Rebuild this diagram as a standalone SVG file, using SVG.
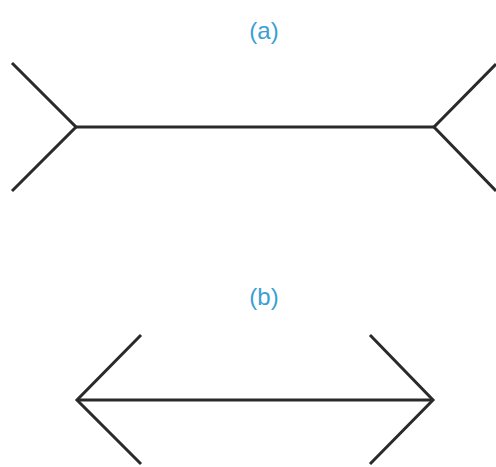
<svg xmlns="http://www.w3.org/2000/svg" width="496" height="467" viewBox="0 0 496 467">
<style>
.fig{fill:none;stroke:#2a2a2a;stroke-width:3;stroke-linecap:butt;stroke-linejoin:miter}
.lbl{font-family:"Liberation Sans",Arial,sans-serif;font-size:24px;fill:#3a9fd4;text-anchor:middle}
</style>
<rect width="496" height="467" fill="#fff"/>
<g id="figure-a">
<text class="lbl" x="264" y="39">(a)</text>
<path class="fig" d="M76,127 H434"/>
<path class="fig" d="M12,63 L76,127 L12,191"/>
<path class="fig" d="M496,64 L434,127 L496,191"/>
</g>
<g id="figure-b">
<text class="lbl" x="264" y="305">(b)</text>
<path class="fig" d="M77,400 H433"/>
<path class="fig" d="M141,335 L77,400 L141,464"/>
<path class="fig" d="M370,335 L433,400 L370,464"/>
</g>
</svg>
